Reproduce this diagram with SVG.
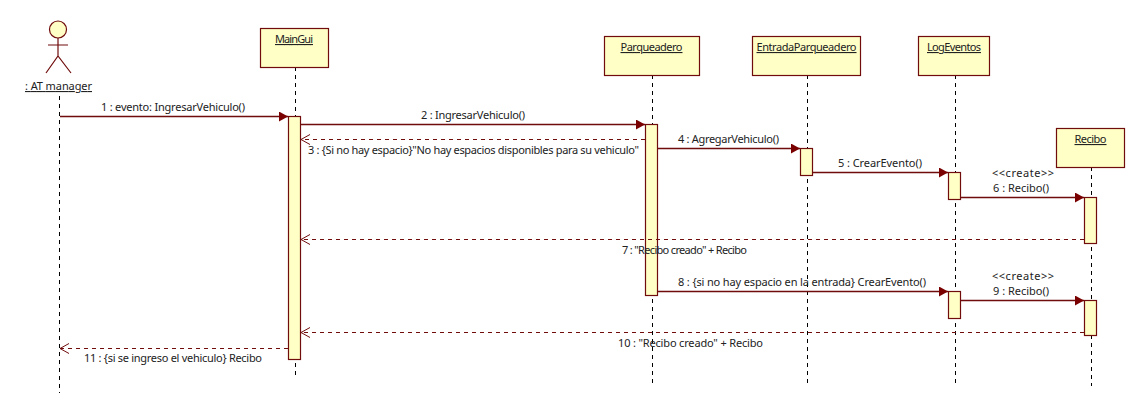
<svg xmlns="http://www.w3.org/2000/svg" width="1145" height="416" viewBox="0 0 1145 416">
<style>
.b{fill:#ffffc6;stroke:#700c0c;stroke-width:1.2}
.l{stroke:#000;stroke-width:1;stroke-dasharray:4 4;fill:none}
.m{stroke:#700c0c;stroke-width:1.3;fill:none}
.r{stroke:#700c0c;stroke-width:1;stroke-dasharray:4 4;fill:none}
.t{font-family:"Noto Sans","Liberation Sans",Arial,sans-serif;font-size:11px;fill:#222}
.u{text-decoration:underline}
.a{fill:none;stroke:#700c0c;stroke-width:1.2}
</style>
<defs>
<marker id="f" markerUnits="userSpaceOnUse" markerWidth="10" markerHeight="10" refX="9" refY="5" orient="auto"><path d="M0,0 L9,5 L0,10 Z" fill="#7a0000"/></marker>
<marker id="o" markerUnits="userSpaceOnUse" markerWidth="11" markerHeight="12" refX="10" refY="6" orient="auto"><path d="M1,1 L10,6 L1,11" fill="none" stroke="#700c0c"/></marker>
</defs>
<g id="actor">
<line class="l" x1="59.5" y1="96" x2="59.5" y2="393"/>
<circle cx="58" cy="29.5" r="8.5" fill="#ffffc6" stroke="#700c0c" stroke-width="1.2"/>
<path class="a" d="M58,38V56M48,45H68M46,73L58,56L71,73"/>
<text class="t u" x="25" y="90" textLength="67">: AT manager</text>
</g>
<g id="MainGui">
<line class="l" x1="295.5" y1="67" x2="295.5" y2="377"/>
<rect class="b" x="260.5" y="28.5" width="68" height="39"/>
<text class="t u" x="275" y="43" textLength="38">MainGui</text>
<rect class="b" x="288.5" y="116.5" width="12" height="243"/>
</g>
<g id="Parqueadero">
<line class="l" x1="652.5" y1="75" x2="652.5" y2="386"/>
<rect class="b" x="604.5" y="36.5" width="95" height="39"/>
<text class="t u" x="620.5" y="51" textLength="62">Parqueadero</text>
<rect class="b" x="645.5" y="124.5" width="12" height="171"/>
</g>
<g id="EntradaParqueadero">
<line class="l" x1="807.5" y1="75" x2="807.5" y2="386"/>
<rect class="b" x="752.5" y="36.5" width="108" height="39"/>
<text class="t u" x="756.5" y="51" textLength="100">EntradaParqueadero</text>
<rect class="b" x="800.5" y="148.5" width="12" height="27"/>
</g>
<g id="LogEventos">
<line class="l" x1="955.5" y1="75" x2="955.5" y2="386"/>
<rect class="b" x="918.5" y="36.5" width="71" height="39"/>
<text class="t u" x="927" y="51" textLength="54">LogEventos</text>
<rect class="b" x="948.5" y="172.5" width="12" height="27"/>
<rect class="b" x="948.5" y="291.5" width="12" height="27"/>
</g>
<g id="Recibo">
<line class="l" x1="1091.5" y1="167" x2="1091.5" y2="386"/>
<rect class="b" x="1056.5" y="128.5" width="68" height="39"/>
<text class="t u" x="1074.5" y="143" textLength="32">Recibo</text>
<rect class="b" x="1084.5" y="197.5" width="12" height="46"/>
<rect class="b" x="1084.5" y="300.5" width="12" height="35"/>
</g>
<g id="connectors">
<line class="m" x1="60" y1="116.5" x2="288" y2="116.5" marker-end="url(#f)"/>
<line class="m" x1="301" y1="124.5" x2="645" y2="124.5" marker-end="url(#f)"/>
<line class="r" x1="645" y1="139.5" x2="301" y2="139.5" marker-end="url(#o)"/>
<line class="m" x1="658" y1="148.5" x2="800" y2="148.5" marker-end="url(#f)"/>
<line class="m" x1="813" y1="172.5" x2="948" y2="172.5" marker-end="url(#f)"/>
<line class="m" x1="961" y1="197.5" x2="1084" y2="197.5" marker-end="url(#f)"/>
<line class="r" x1="1084" y1="239.5" x2="301" y2="239.5" marker-end="url(#o)"/>
<line class="m" x1="658" y1="291.5" x2="948" y2="291.5" marker-end="url(#f)"/>
<line class="m" x1="961" y1="300.5" x2="1084" y2="300.5" marker-end="url(#f)"/>
<line class="r" x1="1084" y1="332.5" x2="301" y2="332.5" marker-end="url(#o)"/>
<line class="r" x1="288" y1="348.5" x2="60" y2="348.5" marker-end="url(#o)"/>
<text class="t" x="101" y="111" textLength="144">1 : evento: IngresarVehiculo()</text>
<text class="t" x="421" y="119" textLength="104">2 : IngresarVehiculo()</text>
<text class="t" x="308" y="154" textLength="331">3 : {Si no hay espacio}"No hay espacios disponibles para su vehiculo"</text>
<text class="t" x="678" y="143" textLength="101">4 : AgregarVehiculo()</text>
<text class="t" x="838" y="167" textLength="84">5 : CrearEvento()</text>
<text class="t" x="992" y="177" textLength="62">&lt;&lt;create&gt;&gt;</text>
<text class="t" x="993" y="192" textLength="56">6 : Recibo()</text>
<text class="t" x="622" y="254" textLength="125">7 : "Recibo creado" + Recibo</text>
<text class="t" x="678" y="286" textLength="248">8 : {si no hay espacio en la entrada} CrearEvento()</text>
<text class="t" x="992" y="280" textLength="62">&lt;&lt;create&gt;&gt;</text>
<text class="t" x="993" y="295" textLength="56">9 : Recibo()</text>
<text class="t" x="618" y="347" textLength="145">10 : "Recibo creado" + Recibo</text>
<text class="t" x="84" y="362" textLength="178">11 : {si se ingreso el vehiculo} Recibo</text>
</g>
</svg>
